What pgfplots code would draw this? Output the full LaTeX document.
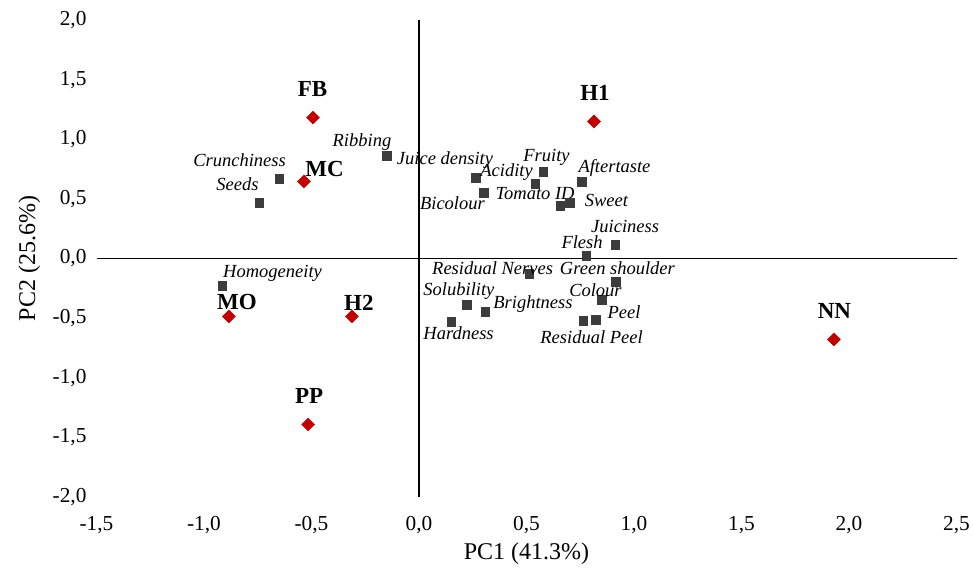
\documentclass[border=0pt]{standalone}
\usepackage{fontspec}
\setmainfont{Liberation Serif}
\usepackage{pgfplots}
\usepackage{pgfplotstable}
\pgfplotsset{compat=1.18}
\definecolor{sqcol}{HTML}{3C3C3C}
\definecolor{dmcol}{HTML}{C00000}

\pgfplotstableread[col sep=comma]{
x,y,dx,dy,label
-0.651,0.671,-39.5,18,Crunchiness
-0.744,0.470,-21.5,18,Seeds
-0.149,0.864,-25,13,Ribbing
0.265,0.679,-31,17,Juice density
0.577,0.730,3.5,14,Fruity
0.540,0.629,-28.5,11,Acidity
0.302,0.553,-31.5,-11,Bicolour
0.758,0.646,32.5,14,Aftertaste
0.656,0.444,-25,12,Tomato ID
0.702,0.470,36.5,2,Sweet
0.912,0.117,10,18,Juiciness
0.777,0.025,-4,13,Flesh
0.512,-0.126,-36.5,5,Residual Nerves
0.916,-0.193,1.5,13,Green shoulder
0.851,-0.344,-6.5,9,Colour
0.223,-0.386,-8,13,Solubility
0.307,-0.444,48,7,Brightness
0.149,-0.528,7.5,-12,Hardness
0.763,-0.520,8.5,-17,Residual Peel
0.823,-0.512,28,7,Peel
-0.916,-0.226,50.5,12,Homogeneity
}\squares

\pgfplotstableread[col sep=comma]{
x,y,dx,dy,label
-0.493,1.182,-0.5,29,FB
-0.535,0.646,20.5,12,MC
0.814,1.149,1,29,H1
-0.884,-0.486,8,14,MO
-0.312,-0.486,7,14,H2
-0.516,-1.392,1,29,PP
1.930,-0.679,0.5,29,NN
}\diamonds

\begin{document}
\begin{tikzpicture}
\useasboundingbox (0,0) rectangle (974pt,568pt);
\begin{axis}[
  at={(96.5pt,71pt)}, anchor=south west,
  scale only axis, width=860pt, height=477pt,
  xmin=-1.5, xmax=2.5, ymin=-2, ymax=2,
  xtick={-1.5,-1,-0.5,0,0.5,1,1.5,2,2.5},
  ytick={-2,-1.5,-1,-0.5,0,0.5,1,1.5,2},
  axis line style={draw=none},
  major tick length=0pt,
  clip=false,
  /pgf/number format/fixed,
  /pgf/number format/fixed zerofill,
  /pgf/number format/precision=1,
  /pgf/number format/use comma,
  /pgf/number format/assume math mode=true,
  tick label style={font=\fontsize{21.3}{24}\selectfont, text=black},
  xticklabel style={anchor=base, yshift=-33pt},
  yticklabel style={anchor=east, xshift=-6.5pt},
  every axis x label/.style={at={(axis description cs:0.5,-0.13)}, anchor=base,
     font=\fontsize{24}{26}\selectfont},
  every axis y label/.style={at={(axis description cs:-0.0715,0.5)}, rotate=90, anchor=base,
     font=\fontsize{24}{26}\selectfont},
  xlabel={PC1 (41.3\%)},
  ylabel={PC2 (25.6\%)},
]
\addplot[black, line width=1.4pt, forget plot] coordinates {(-1.5,0) (2.5,0)};
\addplot[black, line width=1.4pt, forget plot] coordinates {(0,-2) (0,2)};

\addplot[only marks, mark=square*, mark size=4.3pt, color=sqcol,
  nodes near coords, point meta=explicit symbolic,
  visualization depends on={\thisrow{dx} \as \dx},
  visualization depends on={\thisrow{dy} \as \dy},
  every node near coord/.append style={anchor=center, inner sep=0pt,
     xshift=\dx pt, yshift=\dy pt, text=black,
     font=\fontsize{18.5}{20}\selectfont\itshape}]
  table[x=x, y=y, meta=label] {\squares};

\addplot[only marks, mark=square*, mark size=4.6pt, mark options={rotate=45}, color=dmcol,
  nodes near coords, point meta=explicit symbolic,
  visualization depends on={\thisrow{dx} \as \dx},
  visualization depends on={\thisrow{dy} \as \dy},
  every node near coord/.append style={anchor=center, inner sep=0pt,
     xshift=\dx pt, yshift=\dy pt, text=black,
     font=\fontsize{23}{25}\selectfont\bfseries}]
  table[x=x, y=y, meta=label] {\diamonds};
\end{axis}
\end{tikzpicture}
\end{document}
